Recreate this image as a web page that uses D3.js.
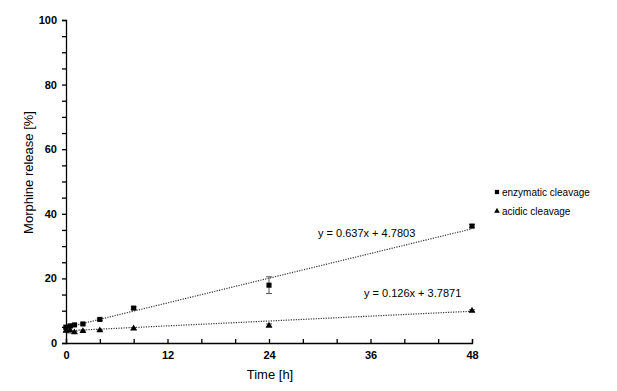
<!DOCTYPE html>
<html>
<head>
<meta charset="utf-8">
<script src="https://cdn.jsdelivr.net/npm/d3@7"></script>
<style>
  body { margin: 0; background: #fff; }
  text { font-family: Arial, "Liberation Sans", sans-serif; }
</style>
</head>
<body>
<svg id="chart" width="617" height="391"></svg>
<script>
const times = [0, 0.5, 1, 2, 4, 8, 24, 48];
const enzymatic = [4.9, 5.3, 5.6, 5.9, 7.3, 10.8, 17.9, 36.2];
const enzymaticErr = [0.4, 0.3, 0.3, 0.3, 0.3, 0.4, 2.6, 0.5];
const acidic = [3.8, 3.9, 3.3, 3.7, 3.9, 4.5, 5.4, 10.0];
const acidicErr = [0.3, 0.8, 0.3, 0.3, 0.2, 0.3, 0.5, 0.3];
const fits = [
  { name: 'enzymatic cleavage', slope: 0.637, intercept: 4.7803, label: 'y = 0.637x + 4.7803' },
  { name: 'acidic cleavage', slope: 0.126, intercept: 3.7871, label: 'y = 0.126x + 3.7871' }
];
const xTicks = [0, 12, 24, 36, 48];
const yTicks = [0, 20, 40, 60, 80, 100];

const svg = d3.select('#chart');

const xScale = d3.scaleLinear().domain([0, 48]).range([66, 472]);
const yScale = d3.scaleLinear().domain([0, 100]).range([343, 20]);

// axes
const yAxis = d3.axisLeft(yScale).tickValues(d3.range(0, 101, 5)).tickSize(4)
  .tickFormat(d => yTicks.includes(d) ? d : '');
const gy = svg.append('g').attr('transform', `translate(${xScale(0)},0)`).call(yAxis);
gy.selectAll('text').attr('font-size', 11).attr('font-weight', 'bold').attr('fill', '#000').attr('dx', -2);
gy.selectAll('line, path').attr('stroke', '#000').attr('stroke-width', 1.3);

const xAxis = d3.axisBottom(xScale).tickValues(d3.range(0, 49, 4)).tickSize(-4)
  .tickFormat(d => xTicks.includes(d) ? d : '');
const gx = svg.append('g').attr('transform', `translate(0,${yScale(0)})`).call(xAxis);
gx.selectAll('text').attr('font-size', 11).attr('font-weight', 'bold').attr('fill', '#000').attr('dy', 13);
gx.selectAll('line, path').attr('stroke', '#000').attr('stroke-width', 1.3);

svg.append('text').attr('x', 270).attr('y', 379).attr('text-anchor', 'middle')
  .attr('font-size', 13).text('Time [h]');
svg.append('text').attr('transform', `translate(33,${yScale(50) - 9}) rotate(-90)`)
  .attr('text-anchor', 'middle').attr('font-size', 13).text('Morphine release [%]');

// trend lines
fits.forEach(f => {
  svg.append('line')
    .attr('x1', xScale(0)).attr('y1', yScale(f.intercept))
    .attr('x2', xScale(48)).attr('y2', yScale(f.slope * 48 + f.intercept))
    .attr('stroke', '#333').attr('stroke-width', 1.2).attr('stroke-dasharray', '1.2,1.3');
});

svg.append('text').attr('x', 318).attr('y', 237).attr('font-size', 11).text(fits[0].label);
svg.append('text').attr('x', 364).attr('y', 297).attr('font-size', 11).text(fits[1].label);

// error bars
function errorBars(vals, errs) {
  times.forEach((t, i) => {
    const x = xScale(t);
    const y0 = yScale(vals[i] - errs[i]), y1 = yScale(vals[i] + errs[i]);
    svg.append('line').attr('x1', x).attr('x2', x).attr('y1', y0).attr('y2', y1)
      .attr('stroke', '#555').attr('stroke-width', 1);
    [y0, y1].forEach(y => svg.append('line').attr('x1', x - 3).attr('x2', x + 3)
      .attr('y1', y).attr('y2', y).attr('stroke', '#555').attr('stroke-width', 1));
  });
}
errorBars(enzymatic, enzymaticErr);
errorBars(acidic, acidicErr);

const square = d3.symbol().type(d3.symbolSquare).size(26);
const triangle = d3.symbol().type(d3.symbolTriangle).size(20);

svg.append('g').selectAll('path').data(times).join('path')
  .attr('d', square)
  .attr('transform', (d, i) => `translate(${xScale(d)},${yScale(enzymatic[i])})`)
  .attr('fill', '#000');

svg.append('g').selectAll('path').data(times).join('path')
  .attr('d', triangle)
  .attr('transform', (d, i) => `translate(${xScale(d)},${yScale(acidic[i])})`)
  .attr('fill', '#000');

// legend
const legend = svg.append('g').attr('transform', 'translate(497,192)');
legend.append('path').attr('d', d3.symbol().type(d3.symbolSquare).size(18)).attr('fill', '#000');
legend.append('text').attr('x', 5).attr('y', 4).attr('font-size', 10).text(fits[0].name);
legend.append('path').attr('d', d3.symbol().type(d3.symbolTriangle).size(14))
  .attr('transform', 'translate(0,19)').attr('fill', '#000');
legend.append('text').attr('x', 5).attr('y', 23).attr('font-size', 10).text(fits[1].name);
</script>
</body>
</html>
